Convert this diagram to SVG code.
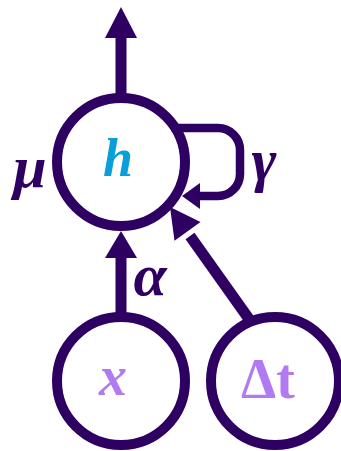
<svg xmlns="http://www.w3.org/2000/svg" width="341" height="451" viewBox="0 0 341 451">
<style>
.node{fill:#fff;stroke:#2d0062;stroke-width:10}
.edge{fill:none;stroke:#2d0062;stroke-width:11}
.loop{fill:none;stroke:#2d0062;stroke-width:8.5}
.head{fill:#2d0062}
.lbl{font-family:"Liberation Serif",serif;font-weight:bold;font-style:italic;font-size:60px;fill:#2d0062}
.h{font-family:"Liberation Serif",serif;font-weight:bold;font-style:italic;font-size:54px;fill:#0a9fd8}
.in{font-family:"Liberation Serif",serif;font-weight:bold;font-size:56px;fill:#b27af0}
</style>
<g id="connectors">
<line class="edge" x1="121" y1="95" x2="121" y2="36"/>
<polygon class="head" points="121,7 105,38 137,38"/>
<line class="edge" x1="121" y1="315" x2="121" y2="255"/>
<polygon class="head" points="121,231 105,258 137,258"/>
<line class="edge" x1="249" y1="319" x2="190" y2="236"/>
<polygon class="head" points="170,207 200.5,222.1 174.5,240.7"/>
<path class="loop" d="M 176 128 H 218 A 22 22 0 0 1 240 150 V 174 A 22 22 0 0 1 218 196 H 198"/>
<polygon class="head" points="182,196 200,183 200,209"/>
</g>
<g id="h">
<circle class="node" cx="121" cy="162" r="64"/>
<text class="h" x="118" y="176" text-anchor="middle">h</text>
</g>
<g id="x">
<circle class="node" cx="121" cy="381" r="64"/>
<text class="in" x="113" y="395" text-anchor="middle" font-style="italic">x</text>
</g>
<g id="dt">
<circle class="node" cx="275" cy="381" r="64"/>
<text class="in" x="268" y="398" text-anchor="middle">Δt</text>
</g>
<g id="labels">
<text class="lbl" x="30" y="187" text-anchor="middle">μ</text>
<text class="lbl" x="264" y="180" text-anchor="middle">γ</text>
<text class="lbl" x="150" y="295" text-anchor="middle">α</text>
</g>
</svg>
